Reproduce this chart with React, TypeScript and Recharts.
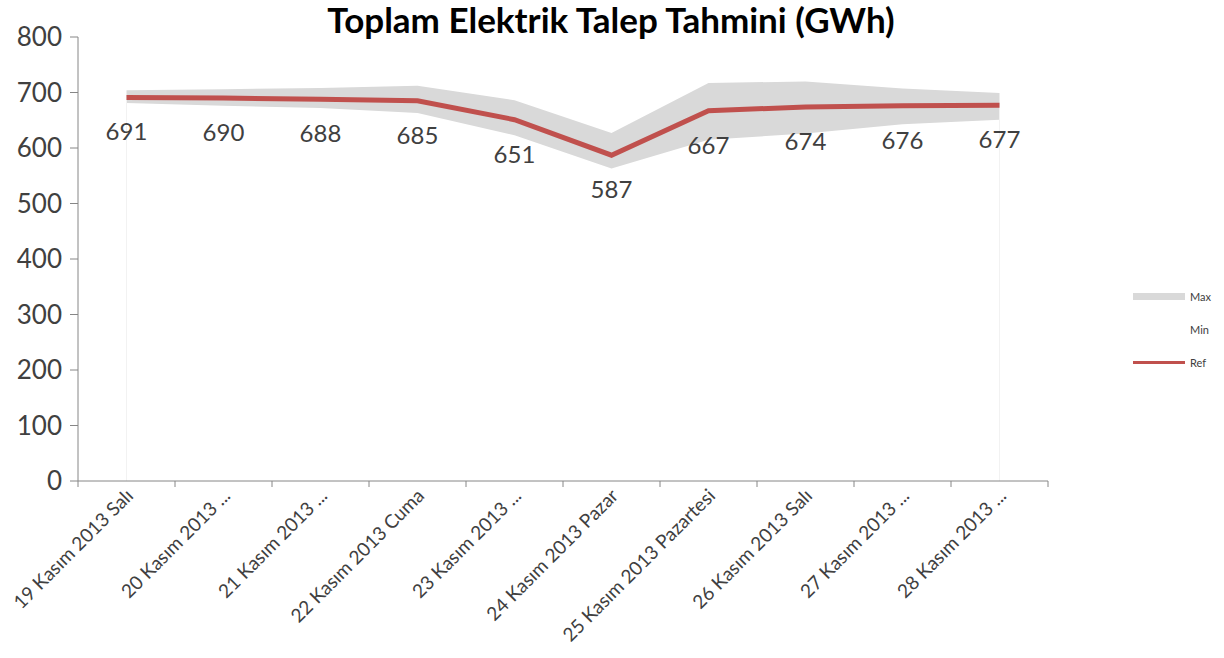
import React from 'react';
import { ComposedChart, Area, Line, XAxis, YAxis, LabelList, ReferenceLine } from 'recharts';

// tarih etiketleri (Excel'in kestiği haliyle)
const categories = [
  '19 Kasım 2013 Salı',
  '20 Kasım 2013 ...',
  '21 Kasım 2013 ...',
  '22 Kasım 2013 Cuma',
  '23 Kasım 2013 ...',
  '24 Kasım 2013 Pazar',
  '25 Kasım 2013 Pazartesi',
  '26 Kasım 2013 Salı',
  '27 Kasım 2013 ...',
  '28 Kasım 2013 ...',
];

const refValues = [691, 690, 688, 685, 651, 587, 667, 674, 676, 677];
const maxValues = [704, 706, 708, 712, 686, 627, 717, 720, 707, 699];
const minValues = [681, 676, 672, 663, 623, 563, 615, 626, 643, 651];
const yTicks = [0, 100, 200, 300, 400, 500, 600, 700, 800];

const data = categories.map((name, i) => ({
  name,
  Ref: refValues[i],
  band: [minValues[i], maxValues[i]],
}));

const FONT = 'Lato, "Open Sans", sans-serif';
const TEXT = '#404040';
const AXIS = '#868686';
const BAND = 97; // 970px plot / 10 categories

const XTick = (props: any) => {
  const { x, y, payload, index } = props;
  return (
    <g>
      <line x1={x - BAND / 2} y1={y} x2={x - BAND / 2} y2={y + 6} stroke={AXIS} />
      {index === categories.length - 1 && (
        <line x1={x + BAND / 2} y1={y} x2={x + BAND / 2} y2={y + 6} stroke={AXIS} />
      )}
      <text
        x={x + 8}
        y={y + 16}
        transform={`rotate(-45, ${x + 8}, ${y + 16})`}
        textAnchor="end"
        fontSize={19}
        fontFamily={FONT}
        fill={TEXT}
      >
        {payload.value}
      </text>
    </g>
  );
};

const RefLabel = (props: any) => {
  const { x, y, value } = props;
  return (
    <text x={x} y={y + 43} textAnchor="middle" fontSize={24} fontFamily={FONT} fill={TEXT}>
      {value}
    </text>
  );
};

const LegendBox = () => (
  <div
    style={{
      position: 'absolute',
      left: 1133,
      top: 280,
      fontFamily: FONT,
      fontSize: 11,
      color: TEXT,
      lineHeight: '12px',
    }}
  >
    <div style={{ display: 'flex', alignItems: 'center', height: 33 }}>
      <span style={{ width: 52, height: 7, background: '#D9D9D9', marginRight: 5 }} />
      Max
    </div>
    <div style={{ display: 'flex', alignItems: 'center', height: 33 }}>
      <span style={{ width: 52, height: 7, marginRight: 5 }} />
      Min
    </div>
    <div style={{ display: 'flex', alignItems: 'center', height: 33 }}>
      <span style={{ width: 52, height: 3, background: '#C0504D', marginRight: 5 }} />
      Ref
    </div>
  </div>
);

export default function App() {
  return (
    <div style={{ position: 'absolute', left: 0, top: 0, width: 1224, height: 658, background: '#fff' }}>
      <ComposedChart
        width={1224}
        height={658}
        data={data}
        margin={{ top: 37, right: 176, bottom: 0, left: 0 }}
      >
        <XAxis
          dataKey="name"
          scale="band"
          interval={0}
          height={177}
          stroke={AXIS}
          tickLine={false}
          tickSize={0}
          tickMargin={0}
          tick={<XTick />}
        />
        <YAxis
          domain={[0, 800]}
          ticks={yTicks}
          width={78}
          stroke={AXIS}
          tickSize={8}
          tickMargin={8}
          tick={{ fontSize: 26, fontFamily: FONT, fill: TEXT }}
        />
        <ReferenceLine
          segment={[{ x: categories[0], y: 0 }, { x: categories[0], y: refValues[0] }]}
          stroke="#f2f2f2"
        />
        <ReferenceLine
          segment={[
            { x: categories[categories.length - 1], y: 0 },
            { x: categories[categories.length - 1], y: refValues[refValues.length - 1] },
          ]}
          stroke="#f2f2f2"
        />
        <Area
          type="linear"
          dataKey="band"
          fill="#D9D9D9"
          fillOpacity={1}
          stroke="none"
          isAnimationActive={false}
        />
        <Line
          type="linear"
          dataKey="Ref"
          stroke="#C0504D"
          strokeWidth={5}
          dot={false}
          isAnimationActive={false}
        >
          <LabelList dataKey="Ref" content={<RefLabel />} />
        </Line>
      </ComposedChart>
      <div
        style={{
          position: 'absolute',
          left: 0,
          width: 1222,
          top: 0,
          lineHeight: '38px',
          textAlign: 'center',
          fontFamily: FONT,
          fontWeight: 700,
          fontSize: 35,
          color: '#000',
        }}
      >
        Toplam Elektrik Talep Tahmini (GWh)
      </div>
      <LegendBox />
    </div>
  );
}
